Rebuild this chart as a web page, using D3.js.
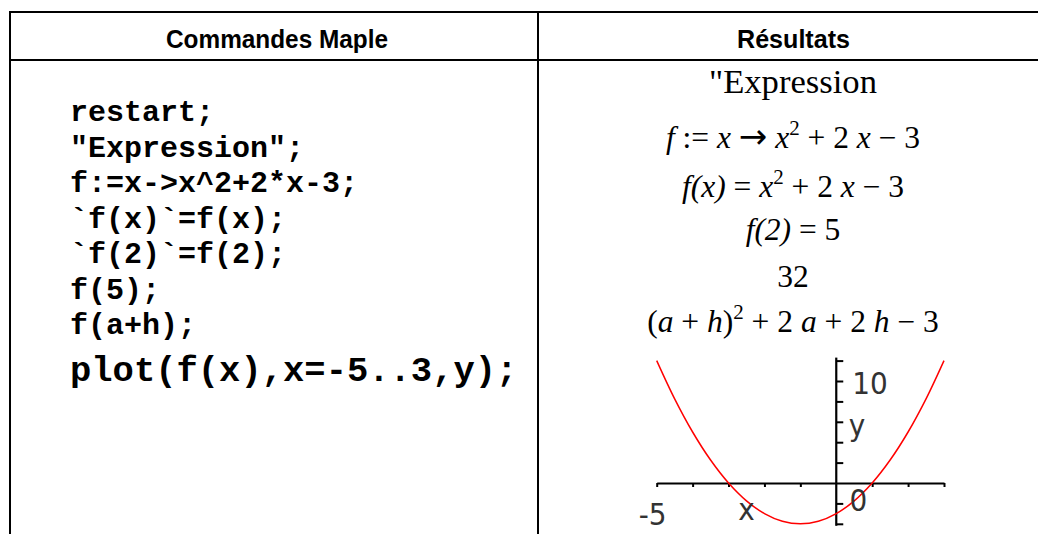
<!DOCTYPE html>
<html><head><meta charset="utf-8">
<script src="https://cdn.jsdelivr.net/npm/d3@7/dist/d3.min.js"></script>
<style>body{margin:0;background:#fff;overflow:hidden}</style>
</head><body>
<svg id="c" width="1038" height="534"></svg>
<script>
// ---------- data ----------
const headers = ["Commandes Maple", "Résultats"];
const codeLines = ["restart;", "\"Expression\";", "f:=x->x^2+2*x-3;", "`f(x)`=f(x);", "`f(2)`=f(2);", "f(5);", "f(a+h);"];
const plotCommand = "plot(f(x),x=-5..3,y);";
// result lines: segments [text, kind] kind: n normal, i italic, s superscript, a arrow
const resultLines = [
  [["\"Expression", "n"]],
  [["f", "i"], [" := ", "n"], ["x", "i"], [" ", "n"], ["\u2192", "a"], [" ", "n"], ["x", "i"], ["2", "s"], [" + 2 ", "n"], ["x", "i"], [" \u2212 3", "n"]],
  [["f(x)", "i"], [" = ", "n"], ["x", "i"], ["2", "s"], [" + 2 ", "n"], ["x", "i"], [" \u2212 3", "n"]],
  [["f(2)", "i"], [" = 5", "n"]],
  [["32", "n"]],
  [["(", "n"], ["a", "i"], [" + ", "n"], ["h", "i"], [")", "n"], ["2", "s"], [" + 2 ", "n"], ["a", "i"], [" + 2 ", "n"], ["h", "i"], [" \u2212 3", "n"]]
];
// plotted curve
const curveX = [-5, -4.5, -4, -3.5, -3, -2.5, -2, -1.5, -1, -0.5, 0, 0.5, 1, 1.5, 2, 2.5, 3];
const curveY = [12, 8.25, 5, 2.25, 0, -1.75, -3, -3.75, -4, -3.75, -3, -1.75, 0, 2.25, 5, 8.25, 12];
const xDomain = [-5, 3];
const yDomain = [-4, 12];
const xTicks = [-5, -4, -3, -2, -1, 1, 2, 3];
const yTicks = [-4, -2, 2, 4, 6, 8, 10, 12];
const xTickLabels = [[-5, "-5"], [0, "0"]];
const yTickLabels = [[10, "10"]];
const axisLabels = [["x", -2.5, -3.6], ["y", 0.58, 4.6]];

// ---------- drawing ----------
const svg = d3.select("#c");
const T = {left: 10, top: 12, head: 60, mid: 538, right: 1048, bottom: 560};

const grid = svg.append("g").attr("stroke", "#000").attr("stroke-width", 2);
grid.append("line").attr("x1", T.left - 1).attr("x2", T.right).attr("y1", T.top).attr("y2", T.top);
grid.append("line").attr("x1", T.left - 1).attr("x2", T.right).attr("y1", T.head).attr("y2", T.head);
grid.append("line").attr("x1", T.left).attr("x2", T.left).attr("y1", T.top).attr("y2", T.bottom);
grid.append("line").attr("x1", T.mid).attr("x2", T.mid).attr("y1", T.top).attr("y2", T.bottom);

const hdrPos = [[277, 222], [793.5, 113]];
svg.selectAll("text.hdr").data(headers).join("text").attr("class", "hdr")
  .attr("x", (d, i) => hdrPos[i][0]).attr("y", 48)
  .attr("text-anchor", "middle")
  .attr("textLength", (d, i) => hdrPos[i][1]).attr("lengthAdjust", "spacingAndGlyphs")
  .style("font-family", "'Liberation Sans',Arial,sans-serif")
  .style("font-weight", "bold").style("font-size", "25px").style("fill", "#000")
  .text(d => d);

const codeFont = "'Liberation Mono','Courier New',monospace";
svg.selectAll("text.code").data(codeLines).join("text").attr("class", "code")
  .attr("x", 70).attr("y", (d, i) => 121 + i * 35.5)
  .style("font-family", codeFont).style("font-weight", "bold").style("font-size", "30px")
  .attr("xml:space", "preserve")
  .text(d => d);
svg.append("text").attr("x", 70).attr("y", 381)
  .style("font-family", codeFont).style("font-weight", "bold").style("font-size", "35.5px")
  .text(plotCommand);

const rBase = [93, 148, 197, 240, 287, 332];
const rc = svg.selectAll("text.res").data(resultLines).join("text").attr("class", "res")
  .attr("x", 793).attr("y", (d, i) => rBase[i])
  .attr("text-anchor", "middle")
  .style("font-family", "'Liberation Serif','Times New Roman',serif")
  .style("font-size", (d, i) => i === 0 ? "33px" : "31.5px")
  .attr("xml:space", "preserve");
rc.filter((d, i) => i === 0).attr("textLength", 168).attr("lengthAdjust", "spacingAndGlyphs");
rc.each(function(segs) {
  const t = d3.select(this);
  segs.forEach(([txt, k], j) => {
    const prevSup = j > 0 && segs[j - 1][1] === "s";
    const ts = t.append("tspan").text(txt);
    if (k === "i") ts.style("font-style", "italic");
    if (k === "a") ts.style("font-family", "'DejaVu Sans',sans-serif").style("font-size", "34px");
    if (k === "s") ts.attr("dy", -13.5).style("font-size", "21px");
    else if (prevSup) ts.attr("dy", 13.5);
  });
});

// ---------- plot ----------
const x = d3.scaleLinear(xDomain, [656.7, 944]);
const y = d3.scaleLinear(yDomain, [523.8, 360.6]);
const pts = curveX.map((v, i) => [v, curveY[i]]);

const ax = svg.append("g").attr("transform", `translate(0,${y(0)})`)
  .call(d3.axisBottom(x).tickValues(xTicks).tickSize(4).tickSizeOuter(0).tickFormat(""));
const ay = svg.append("g").attr("transform", `translate(${x(0)},0)`)
  .call(d3.axisRight(y).tickValues(yTicks).tickSize(7).tickSizeOuter(0).tickFormat(""));
[ax, ay].forEach(g => {
  g.select(".domain").attr("stroke", "#000").attr("stroke-width", 2.2);
  g.selectAll(".tick line").attr("stroke", "#000").attr("stroke-width", 2);
});
ay.select(".domain").attr("d", `M0,${y(yDomain[0]) + 2}V${y(yDomain[1]) - 3}`);

svg.append("path").datum(pts)
  .attr("fill", "none").attr("stroke", "#ff0000").attr("stroke-width", 1.5)
  .attr("d", d3.line().x(d => x(d[0])).y(d => y(d[1])).curve(d3.curveCatmullRom));

const pf = "'DejaVu Sans Condensed','DejaVu Sans',sans-serif";
const lblStyle = s => s.style("font-family", pf).style("font-weight", "200")
  .style("font-size", "31px").style("fill", "#333");
svg.selectAll("text.xl").data(xTickLabels).join("text").attr("class", "xl")
  .attr("x", d => x(d[0]) + (d[0] === 0 ? 22 : -4)).attr("y", d => y(0) + (d[0] === 0 ? 28 : 42))
  .attr("text-anchor", "middle").call(lblStyle).text(d => d[1]);
svg.selectAll("text.yl").data(yTickLabels).join("text").attr("class", "yl")
  .attr("x", x(0) + 16).attr("y", d => y(d[0]) + 13)
  .call(lblStyle).text(d => d[1]);
svg.selectAll("text.al").data(axisLabels).join("text").attr("class", "al")
  .attr("x", d => x(d[1])).attr("y", d => y(d[2]))
  .attr("text-anchor", "middle").call(lblStyle).text(d => d[0]);
</script>
</body></html>
